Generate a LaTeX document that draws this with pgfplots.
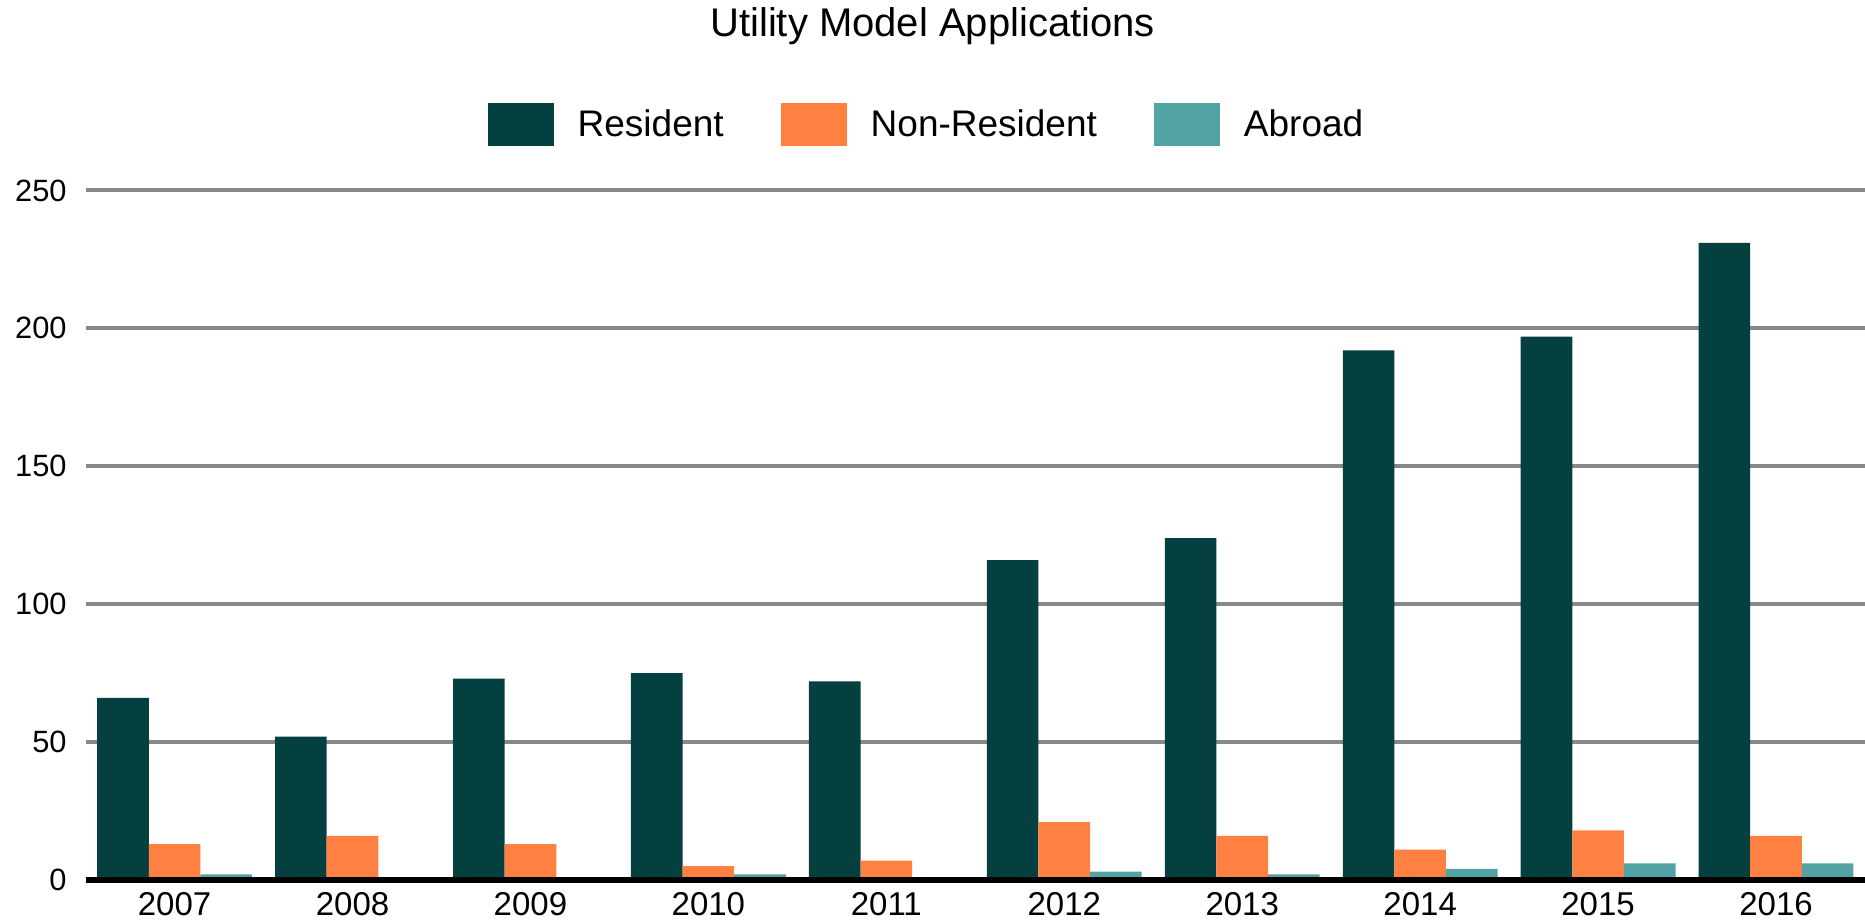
\documentclass[border=0pt]{standalone}
\usepackage{fontspec}
\setmainfont{Liberation Sans}
\usepackage{pgfplots}
\pgfplotsset{compat=1.18}
\definecolor{cRes}{RGB}{4,64,64}
\definecolor{cNon}{RGB}{255,129,66}
\definecolor{cAbr}{RGB}{82,163,163}
\definecolor{cGrid}{RGB}{136,136,136}
\begin{document}
\begin{tikzpicture}
\begin{axis}[
  scale only axis,
  width=889.7pt, height=344.75pt,
  ybar=0pt, bar width=25.8pt,
  xmin=-0.5, xmax=9.5,
  ymin=0, ymax=250,
  xtick=data,
  xticklabels={2007,2008,2009,2010,2011,2012,2013,2014,2015,2016},
  ytick={0,50,100,150,200,250},
  axis line style={draw=none},
  tick style={draw=none},
  ymajorgrids,
  major grid style={cGrid, line width=2pt},
  /pgf/number format/assume math mode=true,
  yticklabel style={font=\fontsize{15.4}{18}\selectfont, black, xshift=-6pt},
  xticklabel style={font=\fontsize{16.5}{19}\selectfont, black, yshift=1.7pt},
  legend style={at={(0.472,1.095)}, anchor=center, draw=none, fill=none,
    font=\fontsize{18.5}{22}\selectfont, legend columns=3,
    column sep=0pt, nodes={inner sep=0pt}},
  legend image code/.code={\fill[#1,draw=none] (0pt,-10.75pt) rectangle (33pt,10.75pt);},
  clip=false,
]
\addplot[fill=cRes, draw=none] coordinates {(0,66) (1,52) (2,73) (3,75) (4,72) (5,116) (6,124) (7,192) (8,197) (9,231)};
\addplot[fill=cNon, draw=none] coordinates {(0,13) (1,16) (2,13) (3,5) (4,7) (5,21) (6,16) (7,11) (8,18) (9,16)};
\addplot[fill=cAbr, draw=none] coordinates {(0,2) (1,0) (2,0) (3,2) (4,1) (5,3) (6,2) (7,4) (8,6) (9,6)};
\legend{\rule{12pt}{0pt}Resident\rule{28.5pt}{0pt},\rule{12pt}{0pt}Non-Resident\rule{28.5pt}{0pt},\rule{12pt}{0pt}Abroad}
\draw[black, line width=2.6pt] (axis cs:-0.5,0) -- (axis cs:9.5,0);
\node[font=\fontsize{20}{24}\selectfont, anchor=center] at (rel axis cs:0.476,1.2386) {Utility Model Applications};
\end{axis}
\pgfresetboundingbox
\useasboundingbox ([xshift=-42.8pt,yshift=-22pt]current axis.south west) rectangle ([yshift=95.25pt]current axis.north east);
\end{tikzpicture}
\end{document}
